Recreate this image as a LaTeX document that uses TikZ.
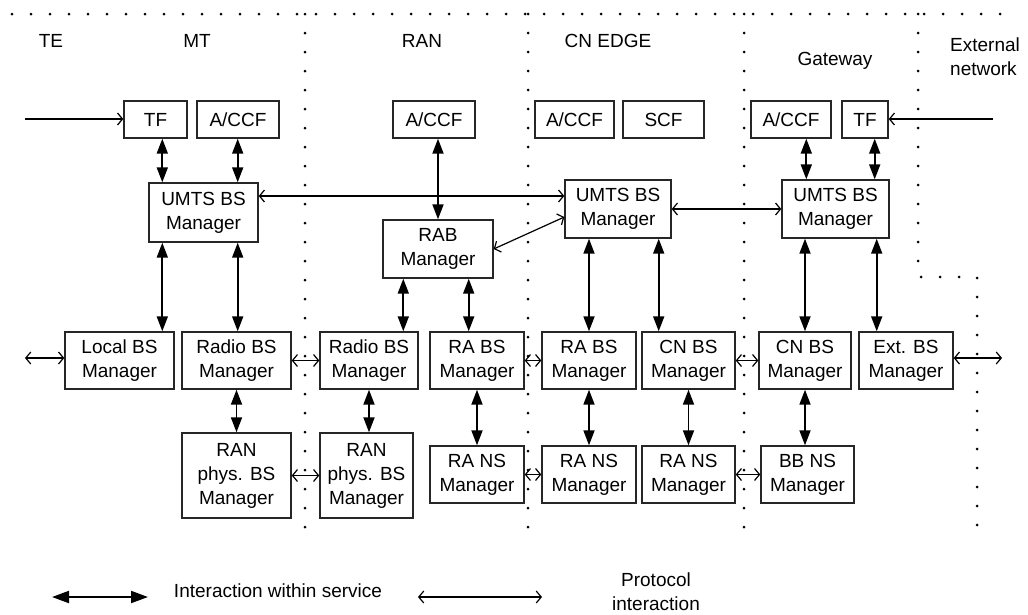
\documentclass[tikz,border=0pt]{standalone}
\usepackage{fontspec}
\setmainfont{Liberation Sans}
\usetikzlibrary{arrows.meta}
\tikzset{
  box/.style={draw=black!85, line width=1.4pt, align=center, inner sep=0pt,
    font=\fontsize{19}{24}\selectfont},
  lbl/.style={font=\fontsize{19}{24}\selectfont, inner sep=0pt, align=center},
  svc/.style={line width=1.8pt, arrows={Triangle[length=15pt,width=11pt]-Triangle[length=15pt,width=11pt]}},
  proto/.style={line width=1.2pt, arrows={Straight Barb[length=5pt,width=12pt]-Straight Barb[length=5pt,width=12pt]}},
  protoin/.style={line width=1.2pt, arrows={-Straight Barb[length=5pt,width=12pt]}},
  bound/.style={line width=3pt, line cap=round, dash pattern=on 0pt off 19pt}
}
\begin{document}
\begin{tikzpicture}[x=1pt,y=-1pt]
\useasboundingbox[fill=white] (0,0) rectangle (1028,614);

\draw[bound] (12,14) -- (1010,14);
\draw[bound] (305,14) -- (305,545);
\draw[bound] (528,14) -- (528,538);
\draw[bound] (744,14) -- (744,538);
\draw[bound] (918,14) -- (918,277) -- (977,277) -- (977,538);

\node[lbl, anchor=base] (te) at (51,47) {TE};
\node[lbl, anchor=base] (mt) at (197,47) {MT};
\node[lbl, anchor=base] (ran) at (422,47) {RAN};
\node[lbl, anchor=base] (cnedge) at (608,47) {CN EDGE};
\node[lbl, anchor=base] (gateway) at (835,65) {Gateway};
\node[lbl, anchor=west, align=left] (extnet) at (950,57) {External\\network};

\node[box, minimum width=63pt, minimum height=37pt] (tf1) at (155.5,119.5) {TF};
\node[box, minimum width=82pt, minimum height=37pt] (accf1) at (238,119.5) {A/CCF};
\node[box, minimum width=82pt, minimum height=37pt] (accf2) at (434,119.5) {A/CCF};
\node[box, minimum width=79pt, minimum height=37pt] (accf3) at (574.5,119.5) {A/CCF};
\node[box, minimum width=81pt, minimum height=37pt] (scf) at (663.5,119.5) {SCF};
\node[box, minimum width=80pt, minimum height=37pt] (accf4) at (791,119.5) {A/CCF};
\node[box, minimum width=46pt, minimum height=37pt] (tf2) at (865,119.5) {TF};

\node[box, minimum width=109pt, minimum height=59pt] (umts1) at (203.5,212.5) {UMTS BS\\Manager};
\node[box, minimum width=110pt, minimum height=58pt] (rab) at (438,249) {RAB\\Manager};
\node[box, minimum width=106pt, minimum height=58pt] (umts2) at (618,209) {UMTS BS\\Manager};
\node[box, minimum width=107pt, minimum height=58pt] (umts3) at (835.5,209) {UMTS BS\\Manager};

\node[box, minimum width=109pt, minimum height=57pt] (local) at (119.5,360.5) {Local BS\\Manager};
\node[box, minimum width=109pt, minimum height=57pt] (radio1) at (236.5,360.5) {Radio BS\\Manager};
\node[box, minimum width=98pt, minimum height=57pt] (radio2) at (369,360.5) {Radio BS\\Manager};
\node[box, minimum width=94pt, minimum height=57pt] (rabs1) at (477,360.5) {RA BS\\Manager};
\node[box, minimum width=94pt, minimum height=57pt] (rabs2) at (589,360.5) {RA BS\\Manager};
\node[box, minimum width=93pt, minimum height=57pt] (cnbs1) at (688.5,360.5) {CN BS\\Manager};
\node[box, minimum width=92pt, minimum height=57pt] (cnbs2) at (805,360.5) {CN BS\\Manager};
\node[box, minimum width=94pt, minimum height=57pt] (ext) at (906,360.5) {Ext. BS\\Manager};

\node[box, minimum width=109pt, minimum height=85pt] (phys1) at (236.5,475.5) {RAN\\phys. BS\\Manager};
\node[box, minimum width=93pt, minimum height=85pt] (phys2) at (366.5,475.5) {RAN\\phys. BS\\Manager};
\node[box, minimum width=94pt, minimum height=57pt] (rans1) at (477,474.5) {RA NS\\Manager};
\node[box, minimum width=94pt, minimum height=57pt] (rans2) at (589,474.5) {RA NS\\Manager};
\node[box, minimum width=93pt, minimum height=57pt] (rans3) at (688.5,474.5) {RA NS\\Manager};
\node[box, minimum width=93pt, minimum height=57pt] (bbns) at (807.5,474.5) {BB NS\\Manager};

\draw[svc] ([xshift=14pt]umts1.north west |- tf1.south) -- ([xshift=14pt]umts1.north west);
\draw[svc] ([xshift=-21pt]umts1.north east |- accf1.south) -- ([xshift=-21pt]umts1.north east);
\draw[svc] (rab.north |- accf2.south) -- (rab.north);
\draw[svc] ([xshift=25pt]umts3.north west |- accf4.south) -- ([xshift=25pt]umts3.north west);
\draw[svc] ([xshift=-15pt]umts3.north east |- tf2.south) -- ([xshift=-15pt]umts3.north east);

\draw[svc] ([xshift=14pt]umts1.south west) -- ([xshift=14pt]umts1.south west |- local.north);
\draw[svc] ([xshift=-21pt]umts1.south east) -- ([xshift=-21pt]umts1.south east |- radio1.north);
\draw[svc] ([xshift=21pt]rab.south west) -- ([xshift=21pt]rab.south west |- radio2.north);
\draw[svc] ([xshift=-25pt]rab.south east) -- ([xshift=-25pt]rab.south east |- rabs1.north);
\draw[svc] (rabs2.north |- umts2.south) -- (rabs2.north);
\draw[svc] ([xshift=-13pt]umts2.south east) -- ([xshift=-13pt]umts2.south east |- cnbs1.north);
\draw[svc] (cnbs2.north |- umts3.south) -- (cnbs2.north);
\draw[svc] ([xshift=-13pt]umts3.south east) -- ([xshift=-13pt]umts3.south east |- ext.north);

\draw[svc] (radio1.south) -- (phys1.north -| radio1.south);
\draw[svc] (radio2.south) -- (phys2.north -| radio2.south);
\draw[svc] (rabs1.south) -- (rans1.north);
\draw[svc] (rabs2.south) -- (rans2.north);
\draw[svc] (cnbs1.south) -- (rans3.north);
\draw[svc] (cnbs2.south) -- (bbns.north -| cnbs2.south);

\coordinate (inleft) at (25,119);
\coordinate (inright) at (993,119);
\draw[protoin] (inleft) -- (inleft -| tf1.west);
\draw[protoin] (inright) -- (inright -| tf2.east);
\draw[proto] ([yshift=16.5pt]umts1.east) -- ([yshift=16.5pt]umts1.east -| umts2.west);
\draw[proto] (rab.east) -- ([yshift=-8pt]umts2.west);
\draw[proto] (umts2.east) -- (umts3.west);

\coordinate (outleft) at (25,358);
\coordinate (outright) at (1002,358);
\draw[proto] (outleft) -- (outleft -| local.west);
\draw[proto] (radio1.east) -- (radio2.west);
\draw[proto] (rabs1.east) -- (rabs2.west);
\draw[proto] (cnbs1.east) -- (cnbs2.west);
\draw[proto] (outright -| ext.east) -- (outright);
\draw[proto] (phys1.east) -- (phys2.west);
\draw[proto] (rans1.east) -- (rans2.west);
\draw[proto] (rans3.east) -- (bbns.west);

\coordinate (legsvca) at (52,597);
\coordinate (legsvcb) at (148,597);
\draw[line width=2pt, arrows={Triangle[length=17pt,width=12pt]-Triangle[length=17pt,width=12pt]}] (legsvca) -- (legsvcb);
\node[lbl] (legsvc) at (278,591) {Interaction within service};
\coordinate (legprota) at (418,597);
\coordinate (legprotb) at (542,597);
\draw[proto] (legprota) -- (legprotb);
\node[lbl] (legprot) at (656,591.5) {Protocol\\interaction};
\end{tikzpicture}
\end{document}
